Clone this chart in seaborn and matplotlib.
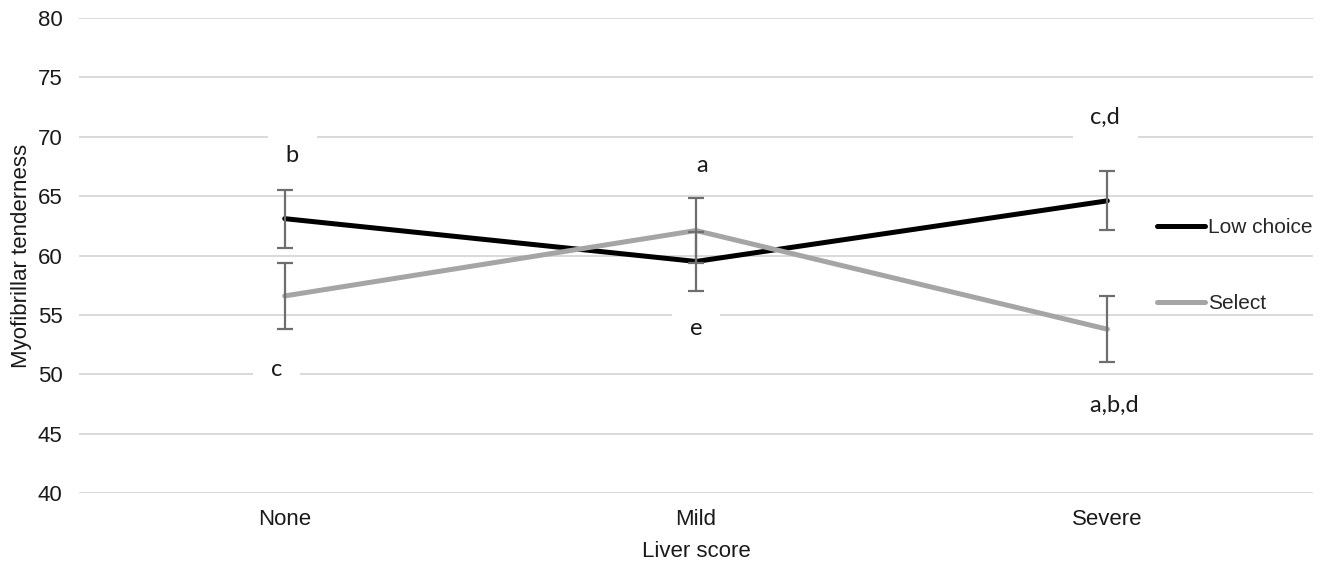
import pandas as pd
import matplotlib
matplotlib.use('Agg')
import matplotlib.pyplot as plt
import seaborn as sns

# Data
scores = ['None', 'Mild', 'Severe']
low_choice = [63.1, 59.5, 64.6]
select = [56.6, 62.1, 53.8]
low_choice_se = [2.45, 2.45, 2.47]
select_se = [2.77, 2.77, 2.77]

# significance letters: (text, category index, x nudge, y)
letters = ['b', 'c', 'a', 'e', 'c,d', 'a,b,d']
letter_cat = [0, 0, 1, 1, 2, 2]
letter_dx = [0.019, -0.02, 0.016, 0.0, -0.005, 0.017]
letter_y = [68.45, 50.4, 67.6, 53.9, 71.6, 47.4]

series_names = ['Low choice', 'Select']
series_colors = ['#000000', '#A5A5A5']

df = pd.DataFrame({
    'score': scores * 2,
    'value': low_choice + select,
    'se': low_choice_se + select_se,
    'series': [series_names[0]] * 3 + [series_names[1]] * 3,
})

sns.set_theme(style='white')
plt.rcParams['font.family'] = ['Liberation Sans', 'DejaVu Sans']

fig, ax = plt.subplots(figsize=(13.24, 5.62), dpi=100)
fig.subplots_adjust(left=0.0597, right=0.9917, top=0.9685, bottom=0.1222)

sns.lineplot(data=df, x='score', y='value', hue='series', palette=series_colors,
             sort=False, linewidth=3.6, ax=ax, zorder=3, legend=True)

for name in series_names:
    sub = df[df['series'] == name]
    ax.errorbar(sub['score'], sub['value'], yerr=sub['se'], fmt='none',
                ecolor='#6E6E6E', elinewidth=1.6, capsize=5.5, capthick=1.6,
                zorder=4)

ax.set_xlim(-0.5, 2.5)
ax.set_ylim(40, 80)
ax.set_yticks(range(40, 81, 5))
ax.yaxis.grid(True, color='#D9D9D9', linewidth=1.4)
ax.set_axisbelow(True)
sns.despine(ax=ax, left=True, bottom=True)
ax.tick_params(axis='both', length=0, labelsize=16, colors='#1a1a1a', pad=12)
ax.tick_params(axis='x', pad=11)

ax.set_xlabel('Liver score', fontsize=16, color='#1a1a1a', labelpad=8)
ax.set_ylabel('Myofibrillar tenderness', fontsize=16, color='#1a1a1a', labelpad=4)

# white boxes behind the letters blank out the gridlines, as in the original
for txt, ci, dx, y in zip(letters, letter_cat, letter_dx, letter_y):
    ax.text(ci + dx, y, ' ' + txt + ' ', ha='center', va='center', fontsize=17,
            family=['Lato', 'DejaVu Sans'], color='#1a1a1a', zorder=2,
            bbox=dict(boxstyle='square,pad=0.5', facecolor='white', edgecolor='none'))

leg = ax.legend(loc='upper left', bbox_to_anchor=(0.867, 0.596), frameon=False,
                fontsize=15, handlelength=2.3, handletextpad=0.12,
                labelspacing=2.75, borderaxespad=0)
for line in leg.get_lines():
    line.set_linewidth(3.6)

fig.savefig('out.png', dpi=100)
